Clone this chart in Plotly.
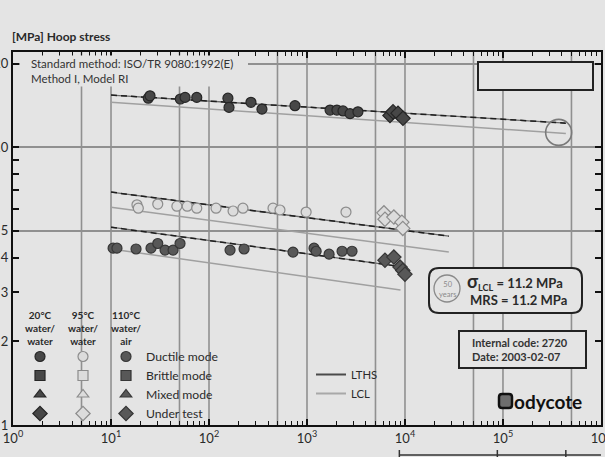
import plotly.graph_objects as go

FONT = "Liberation Sans Narrow, Lato, Roboto, sans-serif"
BG = "#e4e4e4"
INK = "#2a2a2a"

# ---------------- data (hours, MPa) ----------------
T20_DUCT_T = [24, 25, 51, 57, 75, 156, 160, 268, 347, 754, 1720, 2020, 2330, 2750, 3310]
T20_DUCT_S = [15.0, 15.3, 14.9, 15.1, 15.1, 15.0, 13.9, 14.5, 13.7, 14.1, 13.6, 13.6, 13.5, 13.2, 13.4]
T20_UT_T = [7030, 7550, 8490, 9540]
T20_UT_S = [13.0, 13.4, 13.25, 12.7]

T95_DUCT_T = [18.4, 19, 30, 47, 60, 75, 118, 176, 222, 450, 530, 980, 2500]
T95_DUCT_S = [6.2, 6.03, 6.24, 6.13, 6.13, 6.03, 6.03, 5.89, 6.03, 6.03, 5.94, 5.84, 5.84]
T95_UT_T = [6100, 6250, 7700, 9300, 9500]
T95_UT_S = [5.8, 5.5, 5.6, 5.37, 5.1]

T110_DUCT_T = [10.5, 11.5, 18, 25.6, 30, 35.6, 43, 50.6, 164, 228, 720, 1180, 1240, 1680, 2280, 2880]
T110_DUCT_S = [4.33, 4.33, 4.3, 4.33, 4.5, 4.26, 4.26, 4.5, 4.26, 4.3, 4.19, 4.33, 4.22, 4.12, 4.22, 4.22]
T110_UT_T = [6250, 7700, 8900, 9500, 10000]
T110_UT_S = [3.92, 4.02, 3.7, 3.6, 3.49]

LTHS20_T, LTHS20_S = [10, 438000], [15.4, 12.2]
LCL20_T, LCL20_S = [10, 438000], [14.5, 11.2]
LTHS95_T, LTHS95_S = [10, 28000], [6.89, 4.78]
LCL95_T, LCL95_S = [10, 28000], [6.08, 4.19]
LTHS110_T, LTHS110_S = [10, 10000], [5.15, 3.70]
LCL110_T, LCL110_S = [10, 9000], [4.3, 3.06]

MRS_T, MRS_S = [370000], [11.3]           # 50-year marker as drawn
YEAR_MARKS_H = [8760, 87600, 438000]      # 1, 10, 50 years

X_DECADES = [1, 10, 100, 1000, 10000, 100000, 1000000]
X_LABELS = ["10<sup>%d</sup>" % i for i in range(7)]
X_GRID = [5, 10, 50, 100, 500, 1000, 5000, 10000, 50000, 100000, 500000]
Y_TICKS = [1, 2, 3, 4, 5, 6, 7, 8, 9, 10, 20]
Y_LABELS = ["1", "2", "3", "4", "5", "", "", "", "", "10", "20"]
Y_GRID = [5, 10, 20]

MODES = ["Ductile mode", "Brittle mode", "Mixed mode", "Under test"]
SYMBOLS = ["circle", "square", "triangle-up", "diamond"]

# ---------------- helpers for pixel-placed decorations ----------------
L, R, T, B = 13, 4, 52, 32
W, H = 605, 457
PW, PH = W - L - R, H - T - B


def px(x):
    return (x - L) / PW


def py(y):
    return (H - B - y) / PH


fig = go.Figure()

# regression lines
for (lt, ls, ct, cs) in [(LTHS20_T, LTHS20_S, LCL20_T, LCL20_S),
                         (LTHS95_T, LTHS95_S, LCL95_T, LCL95_S),
                         (LTHS110_T, LTHS110_S, LCL110_T, LCL110_S)]:
    fig.add_trace(go.Scatter(x=ct, y=cs, mode="lines", line=dict(color="#a0a0a0", width=1.5),
                             showlegend=False, hoverinfo="skip"))
    fig.add_trace(go.Scatter(x=lt, y=ls, mode="lines", line=dict(color="#6a6a6a", width=1.3),
                             showlegend=False, hoverinfo="skip"))
    fig.add_trace(go.Scatter(x=lt, y=ls, mode="lines", line=dict(color="#1e1e1e", width=1.5, dash="6px,4px"),
                             showlegend=False, hoverinfo="skip"))

# legend entries for lines
fig.add_trace(go.Scatter(x=[None], y=[None], mode="lines", name="LTHS",
                         line=dict(color="#4a4a4a", width=2), legend="legend4"))
fig.add_trace(go.Scatter(x=[None], y=[None], mode="lines", name="LCL",
                         line=dict(color="#a8a8a8", width=2), legend="legend4"))

# 50-year circle
fig.add_trace(go.Scatter(x=MRS_T, y=MRS_S, mode="markers", showlegend=False,
                         marker=dict(symbol="circle-open", size=26, color="#7a7a7a", line=dict(width=1.6))))

groups = [
    ("legend", "#474747", "#262626", T20_DUCT_T, T20_DUCT_S, T20_UT_T, T20_UT_S, False),
    ("legend2", "#dcdcdc", "#8c8c8c", T95_DUCT_T, T95_DUCT_S, T95_UT_T, T95_UT_S, False),
    ("legend3", "#585858", "#363636", T110_DUCT_T, T110_DUCT_S, T110_UT_T, T110_UT_S, True),
]
for leg, fill, edge, dt, ds, ut, us, named in groups:
    series = [(dt, ds), ([None], [None]), ([None], [None]), (ut, us)]
    for mode, sym, (xs, ys) in zip(MODES, SYMBOLS, series):
        fig.add_trace(go.Scatter(
            x=xs, y=ys, mode="markers", name=mode if named else "\u00a0", legend=leg,
            marker=dict(symbol=sym, size=10 if sym != "diamond" else 11, color=fill,
                        line=dict(color=edge, width=1.2))))

axis_common = dict(type="log", showline=True, linecolor="#111", linewidth=2.2, mirror="ticks",
                   ticks="inside", tickcolor="#111", tickwidth=1.5, ticklen=6,
                   tickfont=dict(family=FONT, size=13, color=INK), zeroline=False,
                   automargin=False, showgrid=False, ticklabeloverflow="allow")

x_minor = [m * d for d in X_DECADES[:-1] for m in (2, 3, 4, 6, 7, 8, 9)]
fig.update_xaxes(**axis_common, range=[-0.0002, 6.0004],
                 tickvals=X_DECADES, ticktext=X_LABELS,
                 minor=dict(tickvals=x_minor + X_GRID, ticks="inside", ticklen=4, tickcolor="#111",
                            tickwidth=1.3, showgrid=False))
fig.update_yaxes(**axis_common, range=[0, 1.3424],
                 tickvals=Y_TICKS, ticktext=Y_LABELS,
                 minor=dict(tickvals=Y_GRID, ticks="", showgrid=True, gridcolor="#909090", gridwidth=1.6))

# vertical grid lines at 1x and 5x decades
for g in X_GRID:
    fig.add_shape(type="line", xref="x", yref="paper", x0=g, x1=g, y0=0, y1=1,
                  line=dict(color="#909090", width=1.6), layer="below")

legend_common = dict(bgcolor="rgba(0,0,0,0)", borderwidth=0, xanchor="left", yanchor="top",
                     itemwidth=30, tracegroupgap=0, traceorder="normal",
                     font=dict(family=FONT, size=11.3, color=INK), itemclick=False)

fig.update_layout(
    width=W, height=H, template="none",
    paper_bgcolor=BG, plot_bgcolor=BG,
    margin=dict(l=L, r=R, t=T, b=B),
    font=dict(family=FONT, color=INK),
    showlegend=True,
    legend=dict(**legend_common, x=px(20), y=py(342)),
    legend2=dict(**legend_common, x=px(63), y=py(342)),
    legend3=dict(**legend_common, x=px(106), y=py(342)),
    legend4=dict(**legend_common, x=px(311), y=py(360)),
)
fig.update_layout(legend3_font_size=12.2)

ann = []
ann.append(dict(text="<b>[MPa] Hoop stress</b>", x=px(10), y=py(37), xanchor="left", yanchor="middle",
                font=dict(size=12, color=INK)))
ann.append(dict(text="Standard method: ISO/TR 9080:1992(E)<br>Method I, Model RI",
                x=px(29), y=py(55), xanchor="left", yanchor="top", align="left",
                font=dict(size=11.5, color="#333"), bgcolor=BG, borderpad=1))
for cx, txt in [(40, "20°C<br>water/<br>water"), (83, "95°C<br>water/<br>water"), (126, "110°C<br>water/<br>air")]:
    ann.append(dict(text="<b>" + txt + "</b>", x=px(cx), y=py(307), xanchor="center", yanchor="top",
                    font=dict(size=10, color=INK), align="center"))
ann.append(dict(text="<b><span style='font-size:18px'>σ</span><sub>LCL</sub> = 11.2 MPa</b>",
                x=px(515), y=py(281), xanchor="center", yanchor="middle", font=dict(size=13, color=INK)))
ann.append(dict(text="<b>MRS = 11.2 MPa</b>", x=px(518), y=py(300), xanchor="center", yanchor="middle",
                font=dict(size=13, color=INK)))
ann.append(dict(text="50<br>years", x=px(447), y=py(289), xanchor="center", yanchor="middle",
                font=dict(size=7.5, color="#8a8a8a")))
ann.append(dict(text="<b>Internal code: 2720<br>Date: 2003-02-07</b>", x=px(470), y=py(349),
                xanchor="left", yanchor="middle", align="left", font=dict(size=11, color="#333")))
ann.append(dict(text="<b>odycote</b>", x=px(512), y=py(401), xanchor="left", yanchor="middle",
                font=dict(size=19, color="#111")))
for a in ann:
    a.update(xref="paper", yref="paper", showarrow=False)
fig.update_layout(annotations=ann)


def rounded(x0, y0, x1, y1, r):
    pts = ("M {a},{b} L {c},{b} Q {d},{b} {d},{e} L {d},{f} Q {d},{g} {c},{g} L {a},{g} "
           "Q {h},{g} {h},{f} L {h},{e} Q {h},{b} {a},{b} Z")
    return pts.format(a=px(x0 + r), b=py(y0), c=px(x1 - r), d=px(x1), e=py(y0 + r),
                      f=py(y1 - r), g=py(y1), h=px(x0))


shapes = [
    dict(type="rect", x0=px(20), x1=px(248), y0=py(68), y1=py(58), fillcolor=BG, line=dict(width=0), layer="above"),
    dict(type="rect", x0=px(478), x1=px(593), y0=py(90), y1=py(62), fillcolor=BG, line=dict(color="#222", width=2)),
    dict(type="path", path=rounded(429, 268, 582, 313, 10), fillcolor=BG, line=dict(color="#222", width=2)),
    dict(type="circle", x0=px(434), x1=px(460), y0=py(302), y1=py(275), line=dict(color="#8a8a8a", width=1.3)),
    dict(type="rect", x0=px(459), x1=px(586), y0=py(368), y1=py(331), fillcolor=BG, line=dict(color="#222", width=2)),
    dict(type="path", path=rounded(499, 394, 512, 408, 3), fillcolor="#6e6e6e", line=dict(color="#111", width=2.5)),
]
for s in shapes:
    s.setdefault("xref", "paper")
    s.setdefault("yref", "paper")
# 1 / 10 / 50 year scale below the axis
shapes.append(dict(type="line", xref="x", yref="paper", x0=YEAR_MARKS_H[0], x1=1e6, y0=py(455), y1=py(455),
                   line=dict(color="#333", width=1.5)))
for h in YEAR_MARKS_H:
    shapes.append(dict(type="line", xref="x", yref="paper", x0=h, x1=h, y0=py(450), y1=py(458),
                       line=dict(color="#333", width=1.5)))
for s in shapes:
    fig.add_shape(**s)

fig.write_html("out.html", config={"displayModeBar": False},
               post_script="document.body.style.margin='0';document.body.style.overflow='hidden';")
